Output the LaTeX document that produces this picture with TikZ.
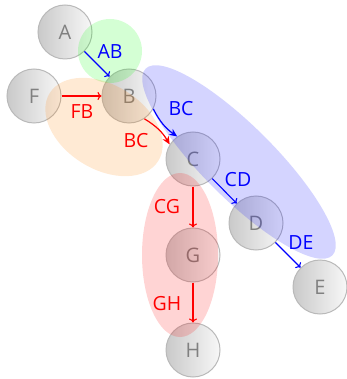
\documentclass[tikz,border=0pt]{standalone}
\usepackage{fontspec}
\setmainfont{Open Sans}
\usetikzlibrary{arrows.meta,shapes.geometric}
\tikzset{
  vtx/.style={circle, minimum size=54pt, inner sep=0pt, draw=gray!55, line width=1pt,
    left color=gray!42, right color=gray!6, text=gray, font=\fontsize{20}{20}\selectfont},
  lbl/.style={font=\fontsize{19.5}{19.5}\selectfont, inner sep=0pt},
  edg/.style={line width=1.1pt, -{To[length=4pt,width=8pt]}},
  edgs/.style={line width=1.2pt, -{Stealth[length=8pt,width=7pt]}},
  blob/.style={fill opacity=0.17}
}
\begin{document}
\begin{tikzpicture}[x=1pt,y=1pt]
\useasboundingbox (0,0) rectangle (346,-379);
% nodes
\node[vtx] (A) at (65,-32) {A};
\node[vtx] (F) at (34,-96) {F};
\node[vtx] (B) at (129,-96) {B};
\node[vtx] (C) at (193,-159) {C};
\node[vtx] (D) at (256,-223) {D};
\node[vtx] (E) at (320,-287) {E};
\node[vtx] (G) at (193,-255) {G};
\node[vtx] (H) at (193,-350) {H};
% groups
\fill[green, blob] (110,-51) circle (32);
\fill[orange, blob, rotate around={-32:(104,-127)}] (104,-127) ellipse [x radius=64, y radius=42];
\fill[blue, blob, rotate around={-45:(239,-162)}] (239,-162) ellipse [x radius=132, y radius=36];
\fill[red, blob] (180,-255) ellipse [x radius=38, y radius=82];
% edges
\draw[edg, blue] (A) -- (B);
\node[lbl, blue] (lAB) at (110,-52) {AB};
\draw[edg, red] (F) -- (B);
\node[lbl, red] (lFB) at (82,-112) {FB};
\draw[edgs, red] (B.-56) to[bend left=14] (C.148);
\node[lbl, red] (lBCr) at (136,-141) {BC};
\draw[edgs, blue] (B.-28) to[bend right=14] (C.125);
\node[lbl, blue] (lBCb) at (181,-109) {BC};
\draw[edg, blue] (C) -- (D);
\node[lbl, blue] (lCD) at (238,-180) {CD};
\draw[edg, blue] (D) -- (E);
\node[lbl, blue] (lDE) at (301,-243) {DE};
\draw[edg, red] (C) -- (G);
\node[lbl, red] (lCG) at (167,-207) {CG};
\draw[edg, red] (G) -- (H);
\node[lbl, red] (lGH) at (167,-304) {GH};
\end{tikzpicture}
\end{document}
